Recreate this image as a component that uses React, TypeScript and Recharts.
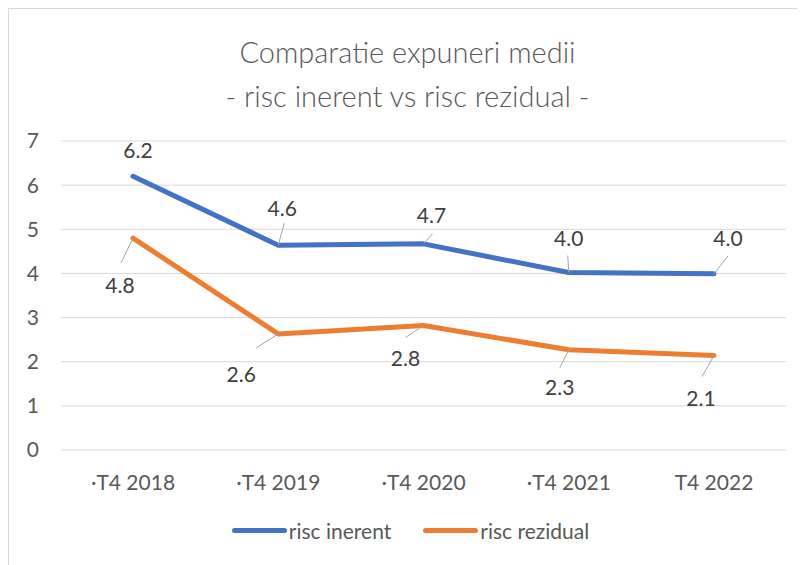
import React from "react";
import { LineChart, Line, XAxis, YAxis, CartesianGrid, Legend } from "recharts";

const categories = ["·T4 2018", "·T4 2019", "·T4 2020", "·T4 2021", "T4 2022"];
const riscInerent = [6.2, 4.64, 4.67, 4.02, 3.99];
const riscRezidual = [4.8, 2.63, 2.82, 2.27, 2.14];
const yTicks = [0, 1, 2, 3, 4, 5, 6, 7];

const data = categories.map((c, i) => ({
    name: c,
    inerent: riscInerent[i],
    rezidual: riscRezidual[i],
}));

const FONT = "Lato, 'Open Sans', sans-serif";
const BLUE = "#4472C4";
const ORANGE = "#ED7D31";

// label centre offset [dx, dy] and leader end [lx, ly] relative to the point
const blueLabels = [
    {d: [5, -27], l: null},
    {d: [4, -38], l: [6, -22]},
    {d: [8, -29], l: [9, -10]},
    {d: [0, -35], l: [-1, -17]},
    {d: [14, -36], l: [14, -18]},
];
const orangeLabels = [
    {d: [-13, 46], l: [-12, 25]},
    {d: [-37, 40], l: [-22, 14]},
    {d: [-18, 32], l: [-18, 12]},
    {d: [-9, 37], l: [-9, 18]},
    {d: [-13, 42], l: [-12, 21]},
];

const makeLabel = (cfg: any[]) => (props: any) => {
    const {x, y, value, index} = props;
    const c = cfg[index];
    if (!c) return null;
    return (
        <g key={`lbl-${index}`}>
            {c.l && (
                <line x1={x} y1={y} x2={x + c.l[0]} y2={y + c.l[1]}
                      stroke="#A6A6A6" strokeWidth={1}/>
            )}
            <text x={x + c.d[0]} y={y + c.d[1]} textAnchor="middle" dominantBaseline="central"
                  fontFamily={FONT} fontSize={21} fill="#404040">
                {Number(value).toFixed(1)}
            </text>
        </g>
    );
};

const LegendContent = () => (
    <div style={{display: "flex", justifyContent: "center", alignItems: "center", fontFamily: FONT,
        fontSize: 21, color: "#595959", paddingLeft: 6}}>
        <span style={{display: "inline-block", width: 55, height: 5, borderRadius: 3, background: BLUE}}/>
        <span style={{marginLeft: 2, marginRight: 32}}>risc inerent</span>
        <span style={{display: "inline-block", width: 55, height: 5, borderRadius: 3, background: ORANGE}}/>
        <span style={{marginLeft: 2}}>risc rezidual</span>
    </div>
);

export default function App() {
    return (
        <div style={{position: "relative", width: 798, height: 557, borderTop: "1px solid #D9D9D9",
            borderLeft: "1px solid #D9D9D9", background: "#fff"}}>
            <div style={{position: "absolute", top: 21, left: 0, width: 797, textAlign: "center",
                fontFamily: FONT, fontWeight: 300, fontSize: 29, color: "#595959", lineHeight: "44px"}}>
                <div>Comparatie expuneri medii</div>
                <div>- risc inerent vs risc rezidual -</div>
            </div>
            <LineChart width={797} height={556} data={data}
                       margin={{top: 132, right: 20, bottom: 50, left: 0}}>
                <CartesianGrid stroke="#D9D9D9" vertical={false}/>
                <XAxis dataKey="name" axisLine={false} tickLine={false} tickSize={0} tickMargin={25}
                       height={40} interval={0} padding={{left: 72, right: 72}}
                       tick={{fontFamily: FONT, fontSize: 21, fill: "#595959"}}/>
                <YAxis domain={[0, 7]} ticks={yTicks} axisLine={false} tickLine={false} tickSize={0}
                       tickMargin={22} width={52}
                       tick={{fontFamily: FONT, fontSize: 21, fill: "#595959"}}/>
                <Legend verticalAlign="bottom" content={<LegendContent/>}
                        wrapperStyle={{top: 509, left: 0, width: 797}}/>
                <Line dataKey="inerent" name="risc inerent" stroke={BLUE} strokeWidth={5}
                      strokeLinecap="round" strokeLinejoin="round" dot={false} activeDot={false}
                      isAnimationActive={false} label={makeLabel(blueLabels)}/>
                <Line dataKey="rezidual" name="risc rezidual" stroke={ORANGE} strokeWidth={5}
                      strokeLinecap="round" strokeLinejoin="round" dot={false} activeDot={false}
                      isAnimationActive={false} label={makeLabel(orangeLabels)}/>
            </LineChart>
        </div>
    );
}
